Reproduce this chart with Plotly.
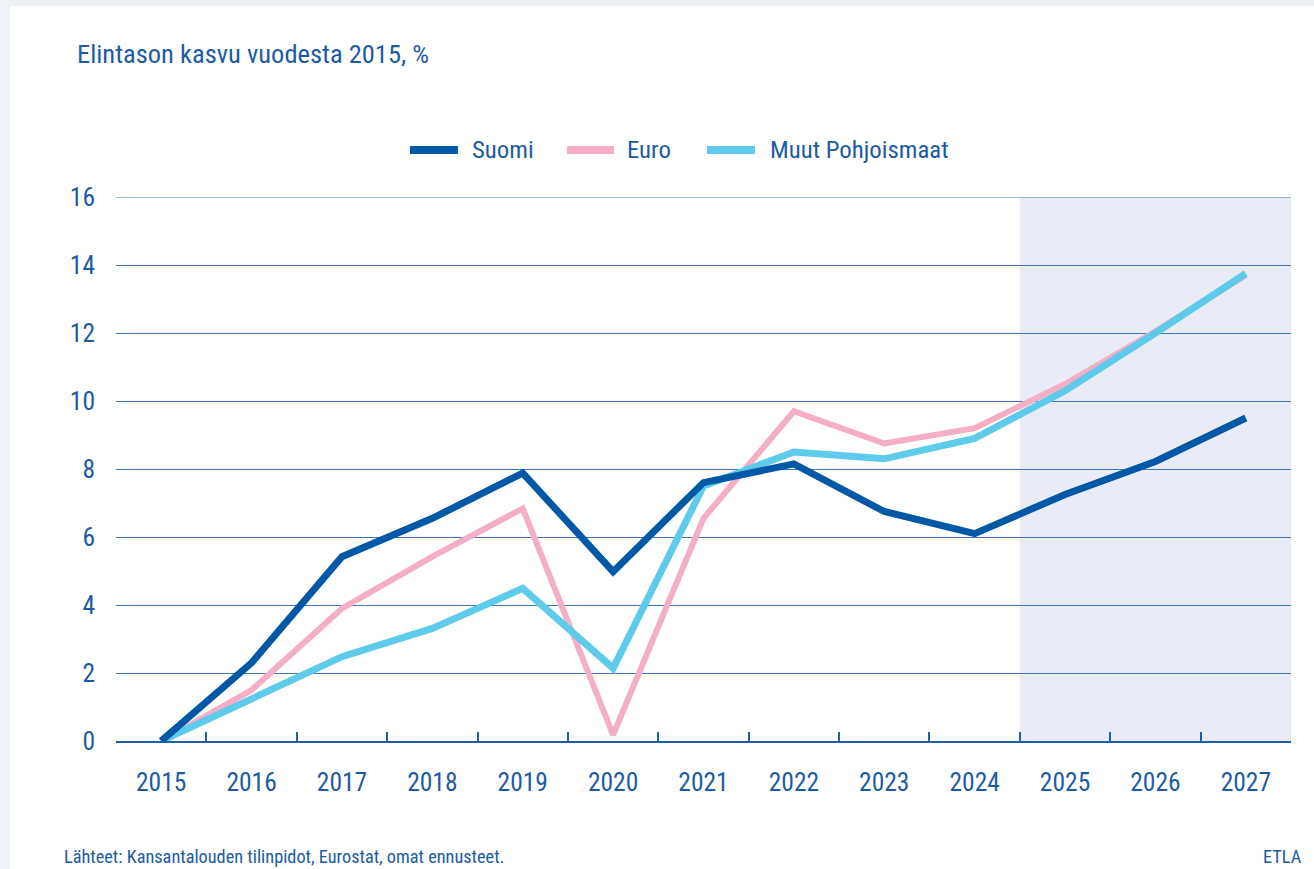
import plotly.graph_objects as go

years = ["2015", "2016", "2017", "2018", "2019", "2020", "2021",
         "2022", "2023", "2024", "2025", "2026", "2027"]
suomi = [0.0, 2.3, 5.42, 6.55, 7.88, 4.98, 7.6, 8.15, 6.75, 6.1, 7.25, 8.22, 9.5]
euro = [0.0, 1.5, 3.9, 5.42, 6.84, 0.18, 6.55, 9.7, 8.75, 9.2, 10.5, 12.05, 13.7]
muut = [0.0, 1.25, 2.48, 3.31, 4.49, 2.14, 7.5, 8.5, 8.3, 8.9, 10.3, 12.0, 13.75]
y_ticks = [0, 2, 4, 6, 8, 10, 12, 14, 16]
forecast_start = "2025"

FONT = "Roboto Condensed, Roboto, sans-serif"
TXT = "#1c5ba3"
C_SUOMI, C_EURO, C_MUUT = "#0058a6", "#f4aec6", "#5ecbea"
GRID = "#3d78bd"

fig = go.Figure()
fig.add_trace(go.Scatter(x=years, y=euro, name="Euro", mode="lines",
                         line=dict(color=C_EURO, width=6)))
fig.add_trace(go.Scatter(x=years, y=muut, name="Muut Pohjoismaat", mode="lines",
                         line=dict(color=C_MUUT, width=7)))
fig.add_trace(go.Scatter(x=years, y=suomi, name="Suomi", mode="lines",
                         line=dict(color=C_SUOMI, width=7)))

# white card
fig.add_shape(type="rect", xref="paper", yref="paper", x0=-0.0902, x1=1.05,
              y0=-0.3, y1=1.351, fillcolor="white", line_width=0, layer="below")
# forecast shading
idx = years.index(forecast_start)
fig.add_shape(type="rect", xref="x", yref="paper", x0=idx - 0.5, x1=len(years) - 0.5,
              y0=0, y1=1, fillcolor="#e9ecf6", line_width=0, layer="below")
# top gridline (at range edge)
fig.add_shape(type="line", xref="paper", yref="y", x0=0, x1=1, y0=16, y1=16,
              line=dict(color=GRID, width=1.2))

# manual legend
legend_items = [("Suomi", C_SUOMI, 0.2502, 0.2910, 0.3013),
                ("Euro", C_EURO, 0.3838, 0.4238, 0.4332),
                ("Muut Pohjoismaat", C_MUUT, 0.5030, 0.5438, 0.5549)]
ly = 1.0864
for name, col, a, b, tx in legend_items:
    fig.add_shape(type="line", xref="paper", yref="paper", x0=a, x1=b, y0=ly, y1=ly,
                  line=dict(color=col, width=8))
    fig.add_annotation(text=name, xref="paper", yref="paper", x=tx, y=ly,
                       xanchor="left", yanchor="middle", showarrow=False,
                       font=dict(family=FONT, size=24.8, color=TXT))

fig.add_annotation(text="Elintason kasvu vuodesta 2015, %", xref="paper", yref="paper",
                   x=-0.0349, y=1.2647, xanchor="left", yanchor="middle", showarrow=False,
                   font=dict(family=FONT, size=26.5, color=TXT))
fig.add_annotation(text="Lähteet: Kansantalouden tilinpidot, Eurostat, omat ennusteet.",
                   xref="paper", yref="paper", x=-0.046, y=-0.2114, xanchor="left",
                   yanchor="middle", showarrow=False,
                   font=dict(family=FONT, size=18.3, color=TXT))
fig.add_annotation(text="ETLA", xref="paper", yref="paper", x=1.011, y=-0.2114,
                   xanchor="right", yanchor="middle", showarrow=False,
                   font=dict(family=FONT, size=18.3, color=TXT))

fig.update_layout(
    width=1314, height=869,
    margin=dict(l=116, r=23, t=197, b=128),
    paper_bgcolor="#eef2f7", plot_bgcolor="rgba(0,0,0,0)",
    font=dict(family=FONT, color=TXT, size=25.5),
    showlegend=False,
    xaxis=dict(type="category", range=[-0.5, len(years) - 0.5], showgrid=False,
               showline=True, linecolor="#1f5fa6", linewidth=2,
               ticks="inside", tickson="boundaries", ticklen=9, tickwidth=2,
               tickcolor="#1f5fa6", ticklabelstandoff=17,
               tickfont=dict(family=FONT, size=25.5, color=TXT)),
    yaxis=dict(range=[0, 16], tickvals=y_ticks, showgrid=True, gridcolor=GRID,
               gridwidth=1.2, zeroline=False, showline=False, ticks="",
               ticklabelstandoff=20,
               tickfont=dict(family=FONT, size=25.5, color=TXT)),
)

fig.write_html("out.html", config={"displayModeBar": False},
               post_script="document.body.style.margin='0';")
